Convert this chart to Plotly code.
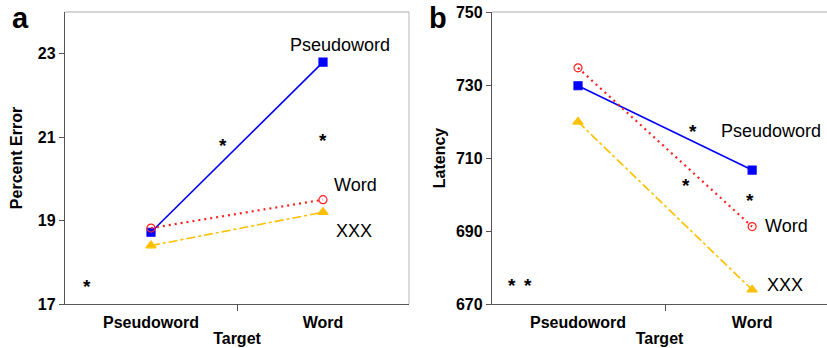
import plotly.graph_objects as go

targets = ["Pseudoword", "Word"]
target_pos = [0, 1]

# Panel a: Percent Error
err_pseudoword = [18.72, 22.8]
err_word = [18.82, 19.5]
err_xxx = [18.4, 19.2]

# Panel b: Latency
lat_pseudoword = [729.8, 706.7]
lat_word = [734.7, 691.2]
lat_xxx = [719.9, 673.9]

err_ticks = [17, 19, 21, 23]
lat_ticks = [670, 690, 710, 730, 750]

# significance stars (x in target units, y in data units)
stars_a = [(-0.37, 17.5), (0.42, 20.88), (1.0, 20.98)]
stars_b = [(-0.38, 676.0), (-0.29, 676.0), (0.66, 718.2), (0.62, 703.4), (0.99, 699.3)]

# series labels
labels_a = [("Pseudoword", 1.1, 23.2), ("Word", 1.19, 19.85), ("XXX", 1.18, 18.75)]
labels_b = [("Pseudoword", 1.11, 717.5), ("Word", 1.2, 691.5), ("XXX", 1.19, 675.3)]

FONT = "Liberation Sans, Arial, sans-serif"
BLUE = "#0000ff"
RED = "#ff2020"
GOLD = "#ffc000"

series = [
    ("Pseudoword", BLUE, "solid", "square", 8, 1.6),
    ("Word", RED, "2px,4px", "circle-open", 8, 2.2),
    ("XXX", GOLD, "dashdot", "triangle-up", 9, 1.6),
]

fig = go.Figure()
for (name, color, dash, sym, msize, lw), ya_, yb_ in zip(
    series, [err_pseudoword, err_word, err_xxx], [lat_pseudoword, lat_word, lat_xxx]
):
    for xs, ys, xr, yr in [(target_pos, ya_, "x", "y"), (target_pos, yb_, "x2", "y2")]:
        fig.add_trace(go.Scatter(x=xs, y=ys, mode="lines+markers", name=name,
                                 line=dict(color=color, dash=dash, width=lw),
                                 marker=dict(symbol=sym, size=msize, color=color,
                                             line=dict(color=color, width=1.2)),
                                 xaxis=xr, yaxis=yr, showlegend=False))

ann = []
for (x, y) in stars_a:
    ann.append(dict(x=x, y=y, xref="x", yref="y", text="<b>*</b>", showarrow=False,
                    font=dict(size=19, color="black", family=FONT), yshift=-3))
for (x, y) in stars_b:
    ann.append(dict(x=x, y=y, xref="x2", yref="y2", text="<b>*</b>", showarrow=False,
                    font=dict(size=19, color="black", family=FONT), yshift=-3))
for (t, x, y) in labels_a:
    ann.append(dict(x=x, y=y, xref="x", yref="y", text=t, showarrow=False,
                    font=dict(size=18, color="black", family=FONT)))
for (t, x, y) in labels_b:
    ann.append(dict(x=x, y=y, xref="x2", yref="y2", text=t, showarrow=False,
                    font=dict(size=18, color="black", family=FONT)))
W, H = 827, 348
ann.append(dict(x=20 / W, y=1 - 18 / H, xref="paper", yref="paper", text="<b>a</b>", showarrow=False,
                xanchor="center", yanchor="middle",
                font=dict(size=29, color="black", family=FONT)))
ann.append(dict(x=438 / W, y=1 - 18 / H, xref="paper", yref="paper", text="<b>b</b>", showarrow=False,
                xanchor="center", yanchor="middle",
                font=dict(size=29, color="black", family=FONT)))

axis_common = dict(showgrid=False, zeroline=False, showline=True, linecolor="#555555",
                   linewidth=1.3, ticks="outside", ticklen=5, tickcolor="#555555",
                   automargin=False,
                   tickfont=dict(family=FONT, size=16, color="black"))

ydom = [44 / H, 1 - 12 / H]

xa = dict(axis_common, domain=[65 / W, 409 / W], range=[-0.5, 1.5], tickvals=target_pos,
          ticktext=["<b>%s</b>" % t for t in targets], ticks="", ticklen=0,
          ticklabelstandoff=4,
          minor=dict(tickvals=[0.5], ticks="outside", ticklen=6, tickcolor="#555555"),
          title=dict(text="<b>Target</b>", font=dict(family=FONT, size=16, color="black"), standoff=2),
          anchor="y")
xb = dict(xa, domain=[492 / W, 1.0], range=[-0.494, 1.43], anchor="y2")
ya = dict(axis_common, domain=ydom, range=[17, 24], tickvals=err_ticks,
          ticktext=["<b>%d</b>" % v for v in err_ticks], anchor="x",
          title=dict(text="<b>Percent Error</b>", font=dict(family=FONT, size=16, color="black"), standoff=11))
yb = dict(axis_common, domain=ydom, range=[670, 750], tickvals=lat_ticks,
          ticktext=["<b>%d</b>" % v for v in lat_ticks], anchor="x2",
          title=dict(text="<b>Latency</b>", font=dict(family=FONT, size=16, color="black"), standoff=6))

shapes = [
    dict(type="line", xref="x domain", yref="y domain", x0=0, x1=1, y0=1, y1=1,
         line=dict(color="#c8c8c8", width=1.3)),
    dict(type="line", xref="x domain", yref="y domain", x0=1, x1=1, y0=0, y1=1,
         line=dict(color="#c8c8c8", width=1.3)),
    dict(type="line", xref="x2 domain", yref="y2 domain", x0=0, x1=1, y0=1, y1=1,
         line=dict(color="#c8c8c8", width=1.3)),
]

fig.update_layout(width=W, height=H, margin=dict(l=0, r=0, t=0, b=0),
                  paper_bgcolor="white", plot_bgcolor="white",
                  xaxis=xa, xaxis2=xb, yaxis=ya, yaxis2=yb,
                  annotations=ann, shapes=shapes,
                  font=dict(family=FONT, color="black"))

fig.write_html("out.html", config={"displayModeBar": False},
               post_script="document.body.style.margin='0';document.body.style.overflow='hidden';")
